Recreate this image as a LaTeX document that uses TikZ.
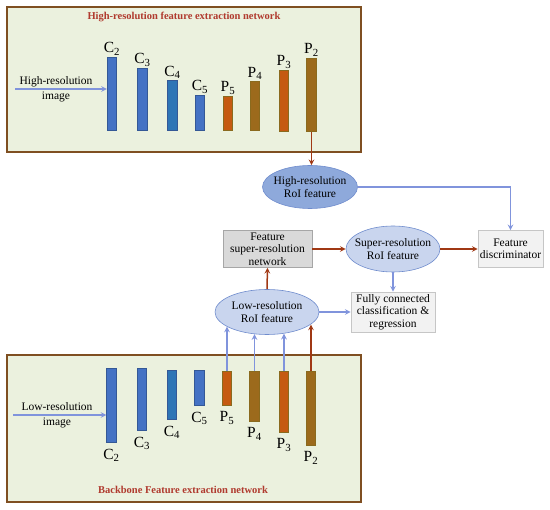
\documentclass[tikz,border=0pt]{standalone}
\usepackage{fontspec}
\setmainfont{Liberation Serif}
\usepackage{tikz}
\usetikzlibrary{shapes.geometric}
\definecolor{panelfill}{RGB}{235, 241, 222}
\definecolor{panelline}{RGB}{127, 79, 33}
\definecolor{titlered}{RGB}{176, 58, 46}
\definecolor{cblue}{RGB}{68, 114, 196}
\definecolor{cteal}{RGB}{46, 117, 182}
\definecolor{cline}{RGB}{52, 88, 150}
\definecolor{porange}{RGB}{197, 90, 17}
\definecolor{polive}{RGB}{156, 106, 28}
\definecolor{pline}{RGB}{138, 106, 30}
\definecolor{arrowblue}{RGB}{128, 148, 220}
\definecolor{arrowbrown}{RGB}{160, 56, 20}
\definecolor{roidark}{RGB}{142, 169, 219}
\definecolor{roilight}{RGB}{201, 213, 238}
\definecolor{roiline}{RGB}{111, 140, 205}
\definecolor{netgray}{RGB}{217, 217, 217}
\definecolor{boxgray}{RGB}{242, 242, 242}

\begin{document}
\begin{tikzpicture}[
  x=1pt, y=-1pt,
  panel/.style={draw=panelline, fill=panelfill, line width=1.5pt},
  paneltitle/.style={font=\fontsize{10.5}{12}\selectfont\bfseries, text=titlered},
  cbar/.style={draw=cline, fill=cblue, line width=0.6pt, minimum width=9.5pt, inner sep=0pt},
  pbar/.style={draw=pline, line width=0.6pt, minimum width=9.5pt, inner sep=0pt},
  lbl/.style={font=\fontsize{15.5}{16}\selectfont, inner sep=2pt},
  intext/.style={font=\fontsize{11.5}{15}\selectfont, align=center, inner sep=0pt},
  roi/.style={ellipse, draw=roiline, line width=0.6pt, align=center,
              font=\fontsize{11.5}{13}\selectfont, inner xsep=-6pt, inner ysep=1pt},
  box/.style={draw, line width=0.6pt, align=center, inner sep=1pt,
              font=\fontsize{11.5}{12.5}\selectfont},
  arrow/.style={->, >=stealth, line width=1.5pt, draw=arrowblue},
  darrow/.style={->, >=stealth, line width=1.5pt, draw=arrowbrown}
]
  \useasboundingbox (0,0) rectangle (550,510);

  % High-resolution panel
  \node[panel, minimum width=354pt, minimum height=145pt] (hipanel) at (184,79.5) {};
  \node[paneltitle] (hititle) at (184,17) {High-resolution feature extraction network};
  \node[intext] (hiimg) at (56,89) {High-resolution\\image};
  \coordinate (hiin) at (15,89);

  \node[cbar, minimum height=73pt, anchor=south] (hc2) at (112,131) {};
  \node[cbar, minimum height=62pt, anchor=south] (hc3) at (142.5,131) {};
  \node[cbar, fill=cteal, minimum height=50pt, anchor=south] (hc4) at (172.5,131) {};
  \node[cbar, minimum height=35pt, anchor=south] (hc5) at (200,131) {};
  \node[pbar, fill=porange, minimum height=34pt, anchor=south] (hp5) at (228,131) {};
  \node[pbar, fill=polive, minimum height=49pt, anchor=south] (hp4) at (255,131) {};
  \node[pbar, fill=porange, minimum height=61pt, anchor=south] (hp3) at (284,132) {};
  \node[pbar, fill=polive, minimum height=73pt, anchor=south] (hp2) at (311.5,132) {};

  \node[lbl, anchor=south] (hlc2) at (hc2.north) {C\textsubscript{2}};
  \node[lbl, anchor=south] (hlc3) at (hc3.north) {C\textsubscript{3}};
  \node[lbl, anchor=south] (hlc4) at (hc4.north) {C\textsubscript{4}};
  \node[lbl, anchor=south] (hlc5) at (hc5.north) {C\textsubscript{5}};
  \node[lbl, anchor=south] (hlp5) at (hp5.north) {P\textsubscript{5}};
  \node[lbl, anchor=south] (hlp4) at (hp4.north) {P\textsubscript{4}};
  \node[lbl, anchor=south] (hlp3) at (hp3.north) {P\textsubscript{3}};
  \node[lbl, anchor=south] (hlp2) at (hp2.north) {P\textsubscript{2}};

  % Backbone panel
  \node[panel, minimum width=354pt, minimum height=147pt] (lopanel) at (184,428.5) {};
  \node[paneltitle] (lotitle) at (183,490) {Backbone Feature extraction network};
  \node[intext] (loimg) at (57,415) {Low-resolution\\image};
  \coordinate (loin) at (13,415);

  \node[cbar, minimum height=74pt, anchor=north] (lc2) at (111.5,368) {};
  \node[cbar, minimum height=62pt, anchor=north] (lc3) at (142,368) {};
  \node[cbar, fill=cteal, minimum height=49pt, anchor=north] (lc4) at (172,370) {};
  \node[cbar, minimum height=35pt, anchor=north] (lc5) at (199.5,370) {};
  \node[pbar, fill=porange, minimum height=34pt, anchor=north] (lp5) at (227,371) {};
  \node[pbar, fill=polive, minimum height=50pt, anchor=north] (lp4) at (254.5,371) {};
  \node[pbar, fill=porange, minimum height=61pt, anchor=north] (lp3) at (284,371) {};
  \node[pbar, fill=polive, minimum height=74pt, anchor=north] (lp2) at (311,371) {};

  \node[lbl, anchor=north, yshift=-4pt] (llc2) at (lc2.south) {C\textsubscript{2}};
  \node[lbl, anchor=north, yshift=-4pt] (llc3) at (lc3.south) {C\textsubscript{3}};
  \node[lbl, anchor=north, yshift=-4pt] (llc4) at (lc4.south) {C\textsubscript{4}};
  \node[lbl, anchor=north, yshift=-4pt] (llc5) at (lc5.south) {C\textsubscript{5}};
  \node[lbl, anchor=north, yshift=-4pt] (llp5) at (lp5.south) {P\textsubscript{5}};
  \node[lbl, anchor=north, yshift=-4pt] (llp4) at (lp4.south) {P\textsubscript{4}};
  \node[lbl, anchor=north, yshift=-4pt] (llp3) at (lp3.south) {P\textsubscript{3}};
  \node[lbl, anchor=north, yshift=-4pt] (llp2) at (lp2.south) {P\textsubscript{2}};

  % RoI features and heads
  \node[roi, fill=roidark, minimum width=95pt, minimum height=43pt] (hiroi) at (310,187)
    {High-resolution\\RoI feature};
  \node[roi, fill=roilight, minimum width=94pt, minimum height=46pt] (sroi) at (393,249)
    {Super-resolution\\RoI feature};
  \node[roi, fill=roilight, minimum width=104pt, minimum height=45pt] (lroi) at (267,312)
    {Low-resolution\\RoI feature};
  \node[box, draw=gray!70, fill=netgray, minimum width=89pt, minimum height=37pt] (fsr) at (267.5,249)
    {Feature\\super-resolution\\network};
  \node[box, draw=gray!45, fill=boxgray, minimum width=65pt, minimum height=37pt] (fd) at (510.5,249)
    {Feature\\discriminator};
  \node[box, draw=gray!45, fill=boxgray, minimum width=84pt, minimum height=40pt] (fc) at (393,312)
    {Fully connected\\classification \&\\regression};

  % Arrows
  \draw[arrow] (hiin) -- (hiin -| hc2.west);
  \draw[arrow] (loin) -- (loin -| lc2.west);
  \draw[darrow] (hp2.south) -- (hp2.south |- hiroi.north);
  \draw[arrow] (hiroi.east) -| (fd.north);
  \draw[darrow] (fsr.east) -- (sroi.west);
  \draw[darrow] (sroi.east) -- (fd.west);
  \draw[arrow] (sroi.south) -- (fc.north);
  \draw[darrow] (lroi.north) -- (fsr.south);
  \draw[arrow] (lroi.east) -- (fc.west);
  \draw[arrow] (lp5.north) -- (lp5.north |- lroi.200);
  \draw[arrow] (lp4.north) -- (lp4.north |- lroi.242);
  \draw[arrow] (lp3.north) -- (lp3.north |- lroi.306);
  \draw[darrow] (lp2.north) -- (lp2.north |- lroi.344);

\end{tikzpicture}
\end{document}
